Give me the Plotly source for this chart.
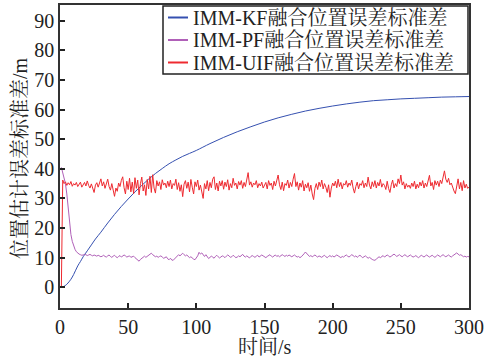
import plotly.graph_objects as go

# time axis (s)
t_noisy = list(range(1, 301))

# IMM-KF fused position error std (smooth curve), sampled points
kf_t = [2, 5, 8, 10, 13, 15, 17, 20, 23, 26, 30, 35, 40, 45, 50, 55, 60, 65, 70, 75,
        80, 85, 90, 95, 100, 110, 120, 130, 140, 150, 160, 170, 180, 190, 200, 210,
        220, 230, 240, 250, 260, 270, 280, 290, 300]
kf_v = [0.0, 1.0, 2.7, 4.3, 7.2, 8.7, 10.3, 12.3, 14.3, 16.3, 18.6, 21.7, 24.6, 27.3, 29.8,
        32.2, 34.4, 36.5, 38.4, 40.1, 41.7, 43.0, 44.2, 45.2, 46.2, 48.5, 50.6, 52.5, 54.2,
        55.8, 57.2, 58.4, 59.5, 60.4, 61.2, 61.9, 62.5, 63.0, 63.3, 63.6, 63.8, 64.0, 64.2,
        64.3, 64.4]

# IMM-PF fused position error std
pf_v = [40.5, 38.5, 36.5, 35.0, 31.5, 26.5, 21.5, 17.8, 15.5, 13.8,
        12.8, 12.0, 11.5, 11.2, 11.0, 10.8, 10.9, 11.1, 11.0, 10.7,
        10.9, 11.1, 10.8, 10.6, 10.9, 10.7, 10.5, 10.8, 10.6, 10.3,
        10.5, 10.8, 10.4, 10.2, 10.6, 10.9, 10.4, 10.1, 10.5, 10.8,
        10.3, 10.0, 10.4, 10.7, 10.2, 10.5, 10.9, 10.6, 10.2, 10.4,
        10.6, 10.1, 10.3, 10.5, 10.0, 9.6, 9.2, 8.8, 9.4, 9.8,
        10.2, 10.5, 10.1, 10.4, 10.8, 11.2, 11.5, 11.0, 10.6, 10.3,
        10.5, 10.1, 10.4, 10.6, 10.2, 9.8, 10.0, 10.3, 9.6, 9.3,
        9.8, 9.2, 9.1, 9.6, 10.2, 10.8, 11.0, 10.6, 11.2, 11.5,
        11.0, 10.6, 10.9, 10.4, 10.0, 10.3, 9.8, 9.5, 9.3, 9.8,
        10.6, 11.8, 11.2, 11.6, 10.8, 10.4, 11.0, 10.3, 9.7, 10.1,
        10.5, 10.2, 9.8, 10.4, 10.8, 10.3, 9.9, 10.2, 10.6, 10.4,
        10.0, 10.5, 10.9, 10.6, 10.1, 10.3, 10.8, 10.4, 10.0, 10.2,
        10.6, 10.3, 10.8, 11.1, 10.5, 10.2, 10.6, 10.3, 9.9, 10.4,
        10.7, 10.4, 10.1, 10.5, 10.8, 10.2, 10.5, 10.9, 10.6, 10.3,
        10.0, 10.4, 10.8, 11.0, 10.5, 10.2, 10.6, 10.9, 10.4, 10.7,
        10.3, 10.6, 11.0, 10.7, 10.4, 10.8, 10.5, 10.9, 10.6, 10.3,
        10.6, 10.9, 10.5, 10.2, 10.4, 10.0, 10.3, 10.7, 11.3, 11.9,
        11.5, 10.8, 10.4, 10.7, 10.3, 10.6, 10.9, 10.5, 10.2, 10.6,
        10.4, 10.1, 10.5, 10.8, 10.3, 10.0, 10.4, 10.7, 10.3, 10.6,
        10.2, 10.5, 10.9, 10.6, 10.3, 10.0, 10.4, 10.2, 10.6, 10.9,
        10.5, 10.2, 10.6, 11.0, 10.7, 10.3, 10.6, 10.1, 10.5, 10.8,
        10.4, 10.0, 10.3, 10.6, 10.2, 9.8, 10.1, 9.6, 9.4, 9.2,
        9.1, 9.5, 9.9, 10.3, 10.0, 10.4, 10.7, 10.2, 10.5, 10.9,
        10.6, 10.2, 10.5, 10.9, 11.2, 10.8, 10.4, 10.7, 11.0, 10.6,
        10.3, 10.7, 11.0, 10.6, 10.3, 10.6, 10.9, 10.5, 10.2, 10.4,
        10.7, 10.3, 10.0, 10.4, 10.8, 10.5, 10.2, 10.6, 10.9, 10.5,
        10.2, 10.5, 10.8, 10.4, 10.1, 10.5, 10.9, 10.6, 10.3, 10.7,
        11.0, 10.6, 10.3, 10.6, 10.9, 10.5, 10.2, 10.6, 11.0, 11.3,
        11.6, 11.2, 10.8, 11.0, 10.6, 10.3, 10.5, 10.2, 10.4, 10.3]

# IMM-UIF fused position error std
uif_v = [0.0, 36.2, 35.0, 35.6, 34.4, 35.3, 34.6, 35.7, 34.1, 35.0,
         34.5, 35.4, 34.0, 35.0, 35.5, 33.8, 34.6, 35.4, 34.2, 35.9,
         34.4, 33.5, 34.9, 33.0, 32.0, 34.5, 35.3, 33.8, 35.1, 36.6,
         34.2, 35.6, 33.4, 34.8, 36.5, 34.0, 32.8, 35.0, 33.2, 30.7,
         33.5, 32.4, 35.2, 34.0, 36.1, 37.3, 33.6, 31.5, 35.8, 33.0,
         36.8, 32.2, 35.5, 31.6, 37.0, 33.4, 36.2, 31.2, 35.0, 37.2,
         32.5, 34.6, 31.0, 36.4, 33.2, 37.5, 32.0, 38.0, 33.5, 31.8,
         36.0, 34.2, 35.6, 33.0, 36.3, 34.5, 35.2, 33.6, 35.8, 34.0,
         36.2, 33.2, 35.0, 34.4, 36.5, 33.0, 35.3, 32.4, 34.6, 30.6,
         34.8, 36.0, 33.4, 35.5, 32.2, 36.4, 33.8, 31.5, 35.6, 34.0,
         36.2, 32.8, 34.5, 31.8, 30.0, 35.0, 33.2, 36.0, 32.6, 35.4,
         33.6, 36.5, 37.3, 33.0, 35.2, 32.5, 35.8, 34.2, 36.0, 33.1,
         35.5, 34.0, 36.3, 32.8, 35.0, 33.6, 36.8, 34.4, 35.2, 33.2,
         35.7, 34.5, 36.0, 33.4, 35.4, 34.0, 36.2, 38.7, 34.5, 35.6,
         33.8, 35.2, 34.6, 36.0, 33.6, 35.0, 34.2, 35.5, 33.5, 34.8,
         35.4, 33.2, 36.0, 34.4, 35.2, 33.0, 35.8, 34.2, 36.4, 37.9,
         34.6, 33.0, 35.5, 32.6, 35.0, 34.4, 36.2, 33.5, 35.4, 34.0,
         36.5, 38.4, 34.0, 35.6, 32.8, 35.2, 33.8, 36.0, 32.5, 34.8,
         33.6, 35.3, 32.4, 34.5, 31.5, 29.6, 33.4, 35.0, 33.0, 35.5,
         34.0, 36.2, 33.2, 35.0, 33.8, 32.0, 34.6, 30.4, 33.5, 35.2,
         34.2, 35.8, 33.6, 36.5, 34.0, 35.4, 33.2, 35.0, 34.5, 36.0,
         33.8, 35.2, 34.4, 36.2, 33.5, 31.8, 34.0, 35.5, 33.2, 35.0,
         34.4, 36.0, 33.6, 35.2, 34.0, 37.2, 34.5, 33.2, 35.6, 34.0,
         36.0, 33.5, 35.4, 34.2, 36.4, 33.8, 35.0, 34.4, 33.0, 35.8,
         33.4, 32.0, 34.6, 36.2, 33.5, 35.0, 34.0, 36.6, 35.0, 37.9,
         34.5, 35.6, 33.2, 35.0, 33.8, 34.5, 33.4, 35.2, 34.0, 35.8,
         33.2, 34.8, 33.6, 35.5, 34.2, 36.0, 33.5, 35.2, 34.0, 36.5,
         37.8, 34.2, 35.4, 33.0, 36.0, 34.5, 35.8, 34.0, 36.2, 35.0,
         37.0, 39.3, 36.5, 35.4, 36.8, 34.6, 35.2, 33.6, 32.5, 31.6,
         35.0, 36.6, 33.2, 35.4, 32.6, 36.0, 33.5, 34.8, 33.4, 33.8]

names = ["IMM-KF融合位置误差标准差", "IMM-PF融合位置误差标准差", "IMM-UIF融合位置误差标准差"]
colors = ["#3550b0", "#b060b8", "#ee2a30"]
x_ticks = [0, 50, 100, 150, 200, 250, 300]
y_ticks = [0, 10, 20, 30, 40, 50, 60, 70, 80, 90]

FONT = "Liberation Serif, 'Noto Serif CJK SC', 'Noto Sans CJK SC', serif"

W, H = 486, 357
ML, MR, MT, MB = 60, 17, 5, 49
PW, PH = W - ML - MR, H - MT - MB


def px(xp):
    return (xp - ML) / PW


def py(yp):
    return (H - MB - yp) / PH


fig = go.Figure()
fig.add_trace(go.Scatter(x=kf_t, y=kf_v, mode="lines", name=names[0], hoverinfo="skip",
                         line=dict(color=colors[0], width=1, shape="spline")))
fig.add_trace(go.Scatter(x=t_noisy, y=pf_v, mode="lines", name=names[1], hoverinfo="skip",
                         line=dict(color=colors[1], width=1)))
fig.add_trace(go.Scatter(x=t_noisy, y=uif_v, mode="lines", name=names[2], hoverinfo="skip",
                         line=dict(color=colors[2], width=1)))

axis_common = dict(showline=True, mirror=True, linecolor="#333333", linewidth=1.5,
                   ticks="inside", ticklen=5, tickwidth=1.5, tickcolor="#222222",
                   showgrid=False, zeroline=False, automargin=False,
                   tickfont=dict(family=FONT, size=20, color="#222222"))

shapes = []
annotations = []
# legend box
shapes.append(dict(type="rect", xref="paper", yref="paper",
                   x0=px(163), x1=px(468), y0=py(74), y1=py(6),
                   line=dict(color="#222222", width=1.5), fillcolor="white", layer="above"))
row_y = [17.5, 40, 62.5]
for i in range(3):
    shapes.append(dict(type="line", xref="paper", yref="paper",
                       x0=px(168), x1=px(188), y0=py(row_y[i]), y1=py(row_y[i]),
                       line=dict(color=colors[i], width=2), layer="above"))
    annotations.append(dict(xref="paper", yref="paper", x=px(191), y=py(row_y[i]),
                            xanchor="left", yanchor="middle", showarrow=False,
                            text=names[i], font=dict(family=FONT, size=20, color="#222222")))
# axis titles
annotations.append(dict(xref="paper", yref="paper", x=px(265), y=py(347),
                        xanchor="center", yanchor="middle", showarrow=False,
                        text="时间/s", font=dict(family=FONT, size=20, color="#222222")))
annotations.append(dict(xref="paper", yref="paper", x=px(20), y=py(158),
                        xanchor="center", yanchor="middle", showarrow=False, textangle=-90,
                        text="位置估计误差标准差/m", font=dict(family=FONT, size=20, color="#222222")))

fig.update_layout(
    width=W, height=H,
    margin=dict(l=ML, r=MR, t=MT, b=MB),
    paper_bgcolor="white", plot_bgcolor="white",
    font=dict(family=FONT, color="#222222"),
    xaxis=dict(range=[0, 300], tickvals=x_ticks, **axis_common),
    yaxis=dict(range=[-7, 95.3], tickvals=y_ticks, **axis_common),
    showlegend=False,
    hovermode=False,
    shapes=shapes,
    annotations=annotations,
)

fig.write_html("out.html", config={"displayModeBar": False},
               post_script="document.body.style.margin='0px';")
